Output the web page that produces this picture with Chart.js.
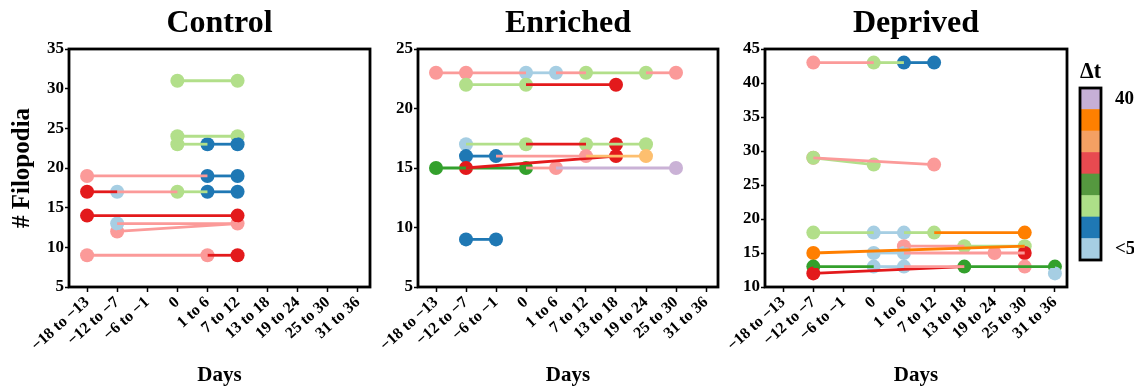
<!DOCTYPE html>
<html>
<head>
<meta charset="utf-8">
<script src="https://cdn.jsdelivr.net/npm/chart.js@4.4.1/dist/chart.umd.min.js"></script>
<style>
  body { margin: 0; background: #fff; }
  #wrap { position: relative; width: 1134px; height: 388px; }
  canvas { position: absolute; top: 0; }
</style>
</head>
<body>
<div id="wrap">
  <canvas id="control" width="380" height="388" style="left:0px"></canvas>
  <canvas id="enriched" width="356" height="388" style="left:372px"></canvas>
  <canvas id="deprived" width="357" height="388" style="left:720px"></canvas>
  <canvas id="dtbar" width="66" height="388" style="left:1068px"></canvas>
</div>
<script>
// day bins on the x axis
const days = ['−18 to −13', '−12 to −7', '−6 to −1', '0', '1 to 6', '7 to 12', '13 to 18', '19 to 24', '25 to 30', '31 to 36'];

// colour per Δt class (Paired)
const dtColors = {
  lb: '#a6cee3', db: '#1f78b4', lg: '#b2df8a', dg: '#33a02c',
  pk: '#fb9a99', rd: '#e31a1c', lo: '#fdbf6f', or: '#ff7f00', lv: '#cab2d6'
};
// colour bar, bottom (<5) to top (40)
const dtBarColors = ['#a6cee3', '#1f78b4', '#addf88', '#55983f', '#e84a50', '#f4a063', '#fe8000', '#c6afd6'];
const dtBarLabels = ['<5', '40'];

// links: [day index from, filopodia, day index to, filopodia, colour]
// points: [day index, filopodia, colour]
const controlLinks = [
  [3, 31, 5, 31, 'lg'], [3, 24, 5, 24, 'lg'], [3, 23, 4, 23, 'lg'], [4, 23, 5, 23, 'db'],
  [0, 19, 4, 19, 'pk'], [4, 19, 5, 19, 'db'],
  [0, 17, 1, 17, 'rd'], [1, 17, 3, 17, 'pk'], [3, 17, 4, 17, 'lg'], [4, 17, 5, 17, 'db'],
  [0, 14, 5, 14, 'rd'], [1, 13, 5, 13, 'pk'], [1, 12, 5, 13, 'pk'],
  [0, 9, 4, 9, 'pk'], [4, 9, 5, 9, 'rd']
];
const controlPoints = [
  [3, 31, 'lg'], [5, 31, 'lg'], [3, 24, 'lg'], [5, 24, 'lg'], [3, 23, 'lg'], [4, 23, 'db'], [5, 23, 'db'],
  [0, 19, 'pk'], [4, 19, 'db'], [5, 19, 'db'],
  [0, 17, 'rd'], [1, 17, 'lb'], [3, 17, 'lg'], [4, 17, 'db'], [5, 17, 'db'],
  [1, 12, 'pk'], [1, 13, 'lb'], [5, 13, 'pk'], [0, 14, 'rd'], [5, 14, 'rd'],
  [0, 9, 'pk'], [4, 9, 'pk'], [5, 9, 'rd']
];

const enrichedLinks = [
  [0, 23, 3, 23, 'pk'], [3, 23, 4, 23, 'lb'], [4, 23, 5, 23, 'pk'], [5, 23, 7, 23, 'lg'], [7, 23, 8, 23, 'pk'],
  [1, 22, 3, 22, 'lg'], [3, 22, 6, 22, 'rd'],
  [1, 17, 3, 17, 'lg'], [3, 17, 5, 17, 'rd'], [5, 17, 7, 17, 'lg'],
  [1, 16, 2, 16, 'db'], [2, 16, 5, 16, 'pk'], [5, 16, 7, 16, 'lo'],
  [3, 15, 4, 15, 'pk'], [4, 15, 8, 15, 'lv'], [1, 15, 6, 16, 'rd'], [0, 15, 3, 15, 'dg'],
  [1, 9, 2, 9, 'db']
];
const enrichedPoints = [
  [0, 23, 'pk'], [1, 23, 'pk'], [3, 23, 'lb'], [4, 23, 'lb'], [5, 23, 'lg'], [7, 23, 'lg'], [8, 23, 'pk'],
  [1, 22, 'lg'], [3, 22, 'lg'], [6, 22, 'rd'],
  [1, 17, 'lb'], [3, 17, 'lg'], [5, 17, 'lg'], [6, 17, 'rd'], [7, 17, 'lg'],
  [1, 16, 'db'], [2, 16, 'db'], [5, 16, 'pk'], [7, 16, 'lo'], [6, 16, 'rd'],
  [1, 15, 'rd'], [0, 15, 'dg'], [3, 15, 'dg'], [4, 15, 'pk'], [8, 15, 'lv'],
  [1, 9, 'db'], [2, 9, 'db']
];

const deprivedLinks = [
  [1, 43, 3, 43, 'pk'], [3, 43, 4, 43, 'lg'], [4, 43, 5, 43, 'db'],
  [1, 29, 5, 28, 'pk'], [1, 29, 3, 28, 'lg'],
  [1, 18, 3, 18, 'lg'], [3, 18, 4, 18, 'lb'], [4, 18, 5, 18, 'lg'], [5, 18, 8, 18, 'or'],
  [1, 15, 8, 16, 'or'], [4, 16, 6, 16, 'pk'], [6, 16, 8, 16, 'lg'], [3, 15, 4, 15, 'lb'], [4, 15, 8, 15, 'pk'],
  [1, 13, 3, 13, 'dg'], [3, 13, 4, 13, 'lb'], [4, 13, 6, 13, 'pk'], [6, 13, 9, 13, 'dg'],
  [1, 12, 6, 13, 'rd']
];
const deprivedPoints = [
  [1, 43, 'pk'], [3, 43, 'lg'], [4, 43, 'db'], [5, 43, 'db'],
  [1, 29, 'pk'], [1, 29, 'lg'], [3, 28, 'lg'], [5, 28, 'pk'],
  [1, 18, 'lg'], [3, 18, 'lb'], [4, 18, 'lb'], [5, 18, 'lg'], [8, 18, 'or'],
  [4, 16, 'pk'], [6, 16, 'lg'], [8, 16, 'lg'],
  [1, 15, 'or'], [3, 15, 'lb'], [4, 15, 'lb'], [7, 15, 'pk'], [8, 15, 'rd'],
  [8, 13, 'pk'], [1, 13, 'dg'], [3, 13, 'lb'], [4, 13, 'lb'], [6, 13, 'dg'], [9, 13, 'dg'],
  [1, 12, 'rd'], [9, 12, 'lb']
];

Chart.defaults.font.family = "'Liberation Serif', 'Times New Roman', serif";
Chart.defaults.font.weight = 'bold';
Chart.defaults.color = '#000';

// black frame round the plot area
const boxBorder = {
  id: 'boxBorder',
  afterDatasetsDraw(chart) {
    const { ctx, chartArea: a } = chart;
    ctx.save();
    ctx.lineWidth = 2.8;
    ctx.strokeStyle = '#000';
    ctx.strokeRect(a.left, a.top, a.right - a.left, a.bottom - a.top);
    ctx.restore();
  }
};

function makePanel(id, title, yMin, yMax, links, points, yWidth, yTitle) {
  const datasets = links.map(l => ({
    data: [{ x: l[0], y: l[1] }, { x: l[2], y: l[3] }],
    borderColor: dtColors[l[4]],
    borderWidth: 2.8,
    pointRadius: 0,
    showLine: true
  }));
  datasets.push({
    data: points.map(p => ({ x: p[0], y: p[1] })),
    showLine: false,
    pointRadius: 7,
    pointHoverRadius: 7,
    pointBorderWidth: 0,
    pointBackgroundColor: points.map(p => dtColors[p[2]])
  });

  new Chart(document.getElementById(id), {
    type: 'line',
    data: { datasets },
    plugins: [boxBorder],
    options: {
      responsive: false,
      animation: false,
      devicePixelRatio: 1,
      layout: { padding: { left: 0, right: 10, top: 0, bottom: 0 } },
      plugins: {
        legend: { display: false },
        tooltip: { enabled: false },
        title: {
          display: true, text: title, fullSize: false,
          font: { size: 32, weight: 'bold' },
          padding: { top: 5, bottom: 5.6 }
        }
      },
      scales: {
        x: {
          type: 'linear', min: -0.6, max: 9.4,
          afterBuildTicks: s => { s.ticks = days.map((d, i) => ({ value: i })); },
          afterFit: s => { s.height = 101; },
          grid: { display: true, drawOnChartArea: false, tickLength: 5, color: '#000', tickWidth: 1.5 },
          border: { display: false },
          ticks: {
            autoSkip: false, minRotation: 42, maxRotation: 42, padding: 1,
            font: { size: 16, weight: 'bold' },
            callback: (v, i) => days[i]
          },
          title: { display: true, text: 'Days', font: { size: 21, weight: 'bold' }, padding: { top: 0, bottom: 0 } }
        },
        y: {
          min: yMin, max: yMax,
          afterFit: s => { s.width = yWidth; },
          grid: { display: true, drawOnChartArea: false, tickLength: 4, color: '#000', tickWidth: 1.5 },
          border: { display: false },
          ticks: { stepSize: 5, padding: 1, font: { size: 17, weight: 'bold' } },
          title: { display: !!yTitle, text: yTitle || '', font: { size: 25, weight: 'bold' }, padding: { top: 8, bottom: 0 } }
        }
      }
    }
  });
}

makePanel('control', 'Control', 5, 35, controlLinks, controlPoints, 69, '# Filopodia');
makePanel('enriched', 'Enriched', 5, 25, enrichedLinks, enrichedPoints, 46, '');
makePanel('deprived', 'Deprived', 10, 45, deprivedLinks, deprivedPoints, 45, '');

// Δt colour bar
new Chart(document.getElementById('dtbar'), {
  type: 'bar',
  data: {
    labels: ['Δt'],
    datasets: dtBarColors.map(c => ({
      data: [1], backgroundColor: c, borderWidth: 0,
      barPercentage: 1, categoryPercentage: 1
    }))
  },
  plugins: [boxBorder],
  options: {
    responsive: false,
    animation: false,
    devicePixelRatio: 1,
    layout: { padding: { left: 12, right: 0, top: 0, bottom: 128 } },
    plugins: {
      legend: { display: false },
      tooltip: { enabled: false },
      title: { display: true, text: 'Δt', fullSize: false, font: { size: 24, weight: 'bold' }, padding: { top: 57, bottom: 2.2 } }
    },
    scales: {
      x: { stacked: true, display: false },
      y: {
        stacked: true, position: 'right', min: 0, max: 8,
        afterBuildTicks: s => { s.ticks = [{ value: 0.5 }, { value: 7.5 }]; },
        afterFit: s => { s.width = 33; },
        grid: { display: false },
        border: { display: false },
        ticks: { padding: 6, font: { size: 19, weight: 'bold' }, callback: (v, i) => dtBarLabels[i] }
      }
    }
  }
});
</script>
</body>
</html>
